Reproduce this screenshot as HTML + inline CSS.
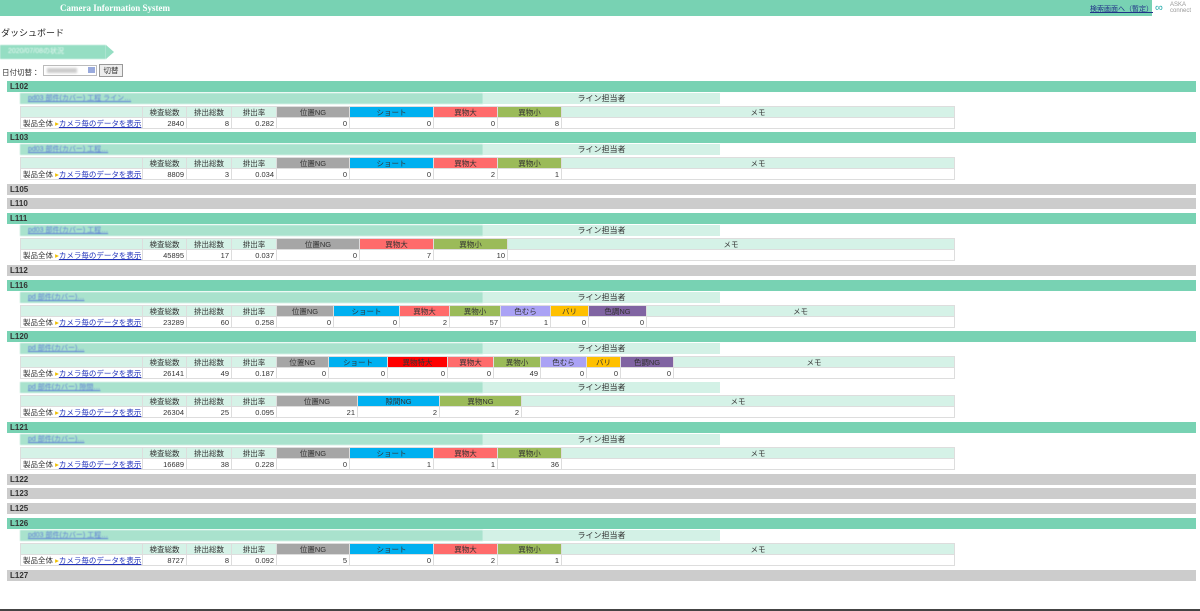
<!DOCTYPE html>
<html><head><meta charset="utf-8"><style>
*{margin:0;padding:0;box-sizing:border-box}
body{width:1200px;height:611px;background:#fff;position:relative;overflow:hidden;font-family:"Liberation Sans","Noto Sans CJK JP",sans-serif;font-size:8px;color:#333}
.a{position:absolute}
.g{position:absolute;left:7px;width:1189px;height:11px;background:#78d2b3;font-weight:bold;font-size:8px;line-height:11px;padding-left:3px;color:#333}
.gr{background:#cccccc}
.cam{position:absolute;left:20px;width:1176px;height:11px}
.cam .n{position:absolute;left:0;width:463px;height:11px;background:#a9e2cd;color:#5f7fd6;padding-left:8px;line-height:11px;font-size:7px;text-decoration:underline;filter:blur(0.5px)}
.cam .l{position:absolute;left:463px;width:237px;height:11px;background:#d3f1e6;text-align:center;line-height:11px}
table{position:absolute;left:20px;width:935px;border-collapse:collapse;table-layout:fixed}
td{height:11px;border:1px solid #ddd;font-size:7.5px;line-height:9px;padding:0 2px;white-space:nowrap;overflow:hidden}
tr.h td{text-align:center;background:#d5f2e7}
tr.d td{text-align:right;background:#fff}
tr.d td.f{text-align:left;background:#fff}
.f a{color:#2233bb;text-decoration:underline}
.f b{color:#f0c000;font-weight:normal}
.c1{background:#a6a6a6!important}.c2{background:#00b0f0!important}.c3{background:#ff6b6b!important}.c4{background:#9bbb59!important}.c5{background:#aaa2f5!important}.c6{background:#ffc000!important}.c7{background:#8064a2!important}.c8{background:#ff0000!important}
</style></head><body>
<div class="a" style="left:0;top:0;width:1152px;height:16px;background:#78d2b3"></div>
<div class="a" style="left:60px;top:3px;color:#fff;font-weight:bold;font-size:9px;font-family:'Liberation Serif',serif">Camera Information System</div>
<div class="a" style="left:1090px;top:4px;font-size:7px;color:#223388;text-decoration:underline">検索画面へ（暫定）</div>
<div class="a" style="left:1155px;top:3px;color:#2aa;font-size:11px;line-height:10px">∞</div>
<div class="a" style="left:1170px;top:2px;color:#999;font-size:6px;line-height:6px">ASKA<br>connect</div>
<div class="a" style="left:1px;top:26px;font-size:9px;color:#222">ダッシュボード</div>
<div class="a" style="left:0;top:45px;width:106px;height:14px;background:#95dec3;color:#e8f8f2;line-height:14px;padding-left:8px;font-size:7px;filter:blur(0.4px)">2020/07/08の状況</div>
<div class="a" style="left:106px;top:45px;width:0;height:0;border-top:7px solid transparent;border-bottom:7px solid transparent;border-left:8px solid #95dec3"></div>
<div class="a" style="left:2px;top:67px;font-size:7.5px">日付切替：</div>
<div class="a" style="left:43px;top:65px;width:54px;height:11px;border:1px solid #bbb;background:#fff"></div>
<div class="a" style="left:47px;top:68px;width:30px;height:5px;background:#ccc;filter:blur(1px)"></div>
<div class="a" style="left:88px;top:67px;width:7px;height:6px;background:#99aadd"></div>
<div class="a" style="left:99px;top:64px;width:24px;height:13px;border:1px solid #999;background:#eee;text-align:center;line-height:11px;font-size:7.5px">切替</div>

<div class="g" style="top:81px">L102</div>
<div class="cam" style="top:93px"><div class="n">pd03 部件(カバー) 工程 ライン…</div><div class="l">ライン担当者</div></div>
<table style="top:106px"><colgroup><col style="width:122px"><col style="width:44px"><col style="width:45px"><col style="width:45px"><col style="width:73px"><col style="width:84px"><col style="width:64px"><col style="width:64px"><col></colgroup>
<tr class="h"><td></td><td>検査総数</td><td>排出総数</td><td>排出率</td><td class="c1">位置NG</td><td class="c2">ショート</td><td class="c3">異物大</td><td class="c4">異物小</td><td>メモ</td></tr>
<tr class="d"><td class="f">製品全体 <b>▸</b><a>カメラ毎のデータを表示</a></td><td>2840</td><td>8</td><td>0.282</td><td>0</td><td>0</td><td>0</td><td>8</td><td></td></tr></table>

<div class="g" style="top:132px">L103</div>
<div class="cam" style="top:144px"><div class="n">pd03 部件(カバー) 工程…</div><div class="l">ライン担当者</div></div>
<table style="top:157px"><colgroup><col style="width:122px"><col style="width:44px"><col style="width:45px"><col style="width:45px"><col style="width:73px"><col style="width:84px"><col style="width:64px"><col style="width:64px"><col></colgroup>
<tr class="h"><td></td><td>検査総数</td><td>排出総数</td><td>排出率</td><td class="c1">位置NG</td><td class="c2">ショート</td><td class="c3">異物大</td><td class="c4">異物小</td><td>メモ</td></tr>
<tr class="d"><td class="f">製品全体 <b>▸</b><a>カメラ毎のデータを表示</a></td><td>8809</td><td>3</td><td>0.034</td><td>0</td><td>0</td><td>2</td><td>1</td><td></td></tr></table>

<div class="g gr" style="top:184px">L105</div>
<div class="g gr" style="top:198px">L110</div>

<div class="g" style="top:213px">L111</div>
<div class="cam" style="top:225px"><div class="n">pd03 部件(カバー) 工程…</div><div class="l">ライン担当者</div></div>
<table style="top:238px"><colgroup><col style="width:122px"><col style="width:44px"><col style="width:45px"><col style="width:45px"><col style="width:83px"><col style="width:74px"><col style="width:74px"><col></colgroup>
<tr class="h"><td></td><td>検査総数</td><td>排出総数</td><td>排出率</td><td class="c1">位置NG</td><td class="c3">異物大</td><td class="c4">異物小</td><td>メモ</td></tr>
<tr class="d"><td class="f">製品全体 <b>▸</b><a>カメラ毎のデータを表示</a></td><td>45895</td><td>17</td><td>0.037</td><td>0</td><td>7</td><td>10</td><td></td></tr></table>

<div class="g gr" style="top:265px">L112</div>

<div class="g" style="top:280px">L116</div>
<div class="cam" style="top:292px"><div class="n">pd 部件(カバー)…</div><div class="l">ライン担当者</div></div>
<table style="top:305px"><colgroup><col style="width:122px"><col style="width:44px"><col style="width:45px"><col style="width:45px"><col style="width:57px"><col style="width:66px"><col style="width:50px"><col style="width:51px"><col style="width:50px"><col style="width:38px"><col style="width:58px"><col></colgroup>
<tr class="h"><td></td><td>検査総数</td><td>排出総数</td><td>排出率</td><td class="c1">位置NG</td><td class="c2">ショート</td><td class="c3">異物大</td><td class="c4">異物小</td><td class="c5">色むら</td><td class="c6">バリ</td><td class="c7">色調NG</td><td>メモ</td></tr>
<tr class="d"><td class="f">製品全体 <b>▸</b><a>カメラ毎のデータを表示</a></td><td>23289</td><td>60</td><td>0.258</td><td>0</td><td>0</td><td>2</td><td>57</td><td>1</td><td>0</td><td>0</td><td></td></tr></table>

<div class="g" style="top:331px">L120</div>
<div class="cam" style="top:343px"><div class="n">pd 部件(カバー)…</div><div class="l">ライン担当者</div></div>
<table style="top:356px"><colgroup><col style="width:122px"><col style="width:44px"><col style="width:45px"><col style="width:45px"><col style="width:52px"><col style="width:59px"><col style="width:60px"><col style="width:46px"><col style="width:47px"><col style="width:46px"><col style="width:34px"><col style="width:53px"><col></colgroup>
<tr class="h"><td></td><td>検査総数</td><td>排出総数</td><td>排出率</td><td class="c1">位置NG</td><td class="c2">ショート</td><td class="c8">異物特大</td><td class="c3">異物大</td><td class="c4">異物小</td><td class="c5">色むら</td><td class="c6">バリ</td><td class="c7">色調NG</td><td>メモ</td></tr>
<tr class="d"><td class="f">製品全体 <b>▸</b><a>カメラ毎のデータを表示</a></td><td>26141</td><td>49</td><td>0.187</td><td>0</td><td>0</td><td>0</td><td>0</td><td>49</td><td>0</td><td>0</td><td>0</td><td></td></tr></table>
<div class="cam" style="top:382px"><div class="n">pd 部件(カバー) 隙間…</div><div class="l">ライン担当者</div></div>
<table style="top:395px"><colgroup><col style="width:122px"><col style="width:44px"><col style="width:45px"><col style="width:45px"><col style="width:81px"><col style="width:82px"><col style="width:82px"><col></colgroup>
<tr class="h"><td></td><td>検査総数</td><td>排出総数</td><td>排出率</td><td class="c1">位置NG</td><td class="c2">隙間NG</td><td class="c4">異物NG</td><td>メモ</td></tr>
<tr class="d"><td class="f">製品全体 <b>▸</b><a>カメラ毎のデータを表示</a></td><td>26304</td><td>25</td><td>0.095</td><td>21</td><td>2</td><td>2</td><td></td></tr></table>

<div class="g" style="top:422px">L121</div>
<div class="cam" style="top:434px"><div class="n">pd 部件(カバー)…</div><div class="l">ライン担当者</div></div>
<table style="top:447px"><colgroup><col style="width:122px"><col style="width:44px"><col style="width:45px"><col style="width:45px"><col style="width:73px"><col style="width:84px"><col style="width:64px"><col style="width:64px"><col></colgroup>
<tr class="h"><td></td><td>検査総数</td><td>排出総数</td><td>排出率</td><td class="c1">位置NG</td><td class="c2">ショート</td><td class="c3">異物大</td><td class="c4">異物小</td><td>メモ</td></tr>
<tr class="d"><td class="f">製品全体 <b>▸</b><a>カメラ毎のデータを表示</a></td><td>16689</td><td>38</td><td>0.228</td><td>0</td><td>1</td><td>1</td><td>36</td><td></td></tr></table>

<div class="g gr" style="top:474px">L122</div>
<div class="g gr" style="top:488px">L123</div>
<div class="g gr" style="top:503px">L125</div>

<div class="g" style="top:518px">L126</div>
<div class="cam" style="top:530px"><div class="n">pd03 部件(カバー) 工程…</div><div class="l">ライン担当者</div></div>
<table style="top:543px"><colgroup><col style="width:122px"><col style="width:44px"><col style="width:45px"><col style="width:45px"><col style="width:73px"><col style="width:84px"><col style="width:64px"><col style="width:64px"><col></colgroup>
<tr class="h"><td></td><td>検査総数</td><td>排出総数</td><td>排出率</td><td class="c1">位置NG</td><td class="c2">ショート</td><td class="c3">異物大</td><td class="c4">異物小</td><td>メモ</td></tr>
<tr class="d"><td class="f">製品全体 <b>▸</b><a>カメラ毎のデータを表示</a></td><td>8727</td><td>8</td><td>0.092</td><td>5</td><td>0</td><td>2</td><td>1</td><td></td></tr></table>

<div class="g gr" style="top:570px">L127</div>
<div class="a" style="left:0;top:609px;width:1200px;height:2px;background:#444"></div>
</body></html>
